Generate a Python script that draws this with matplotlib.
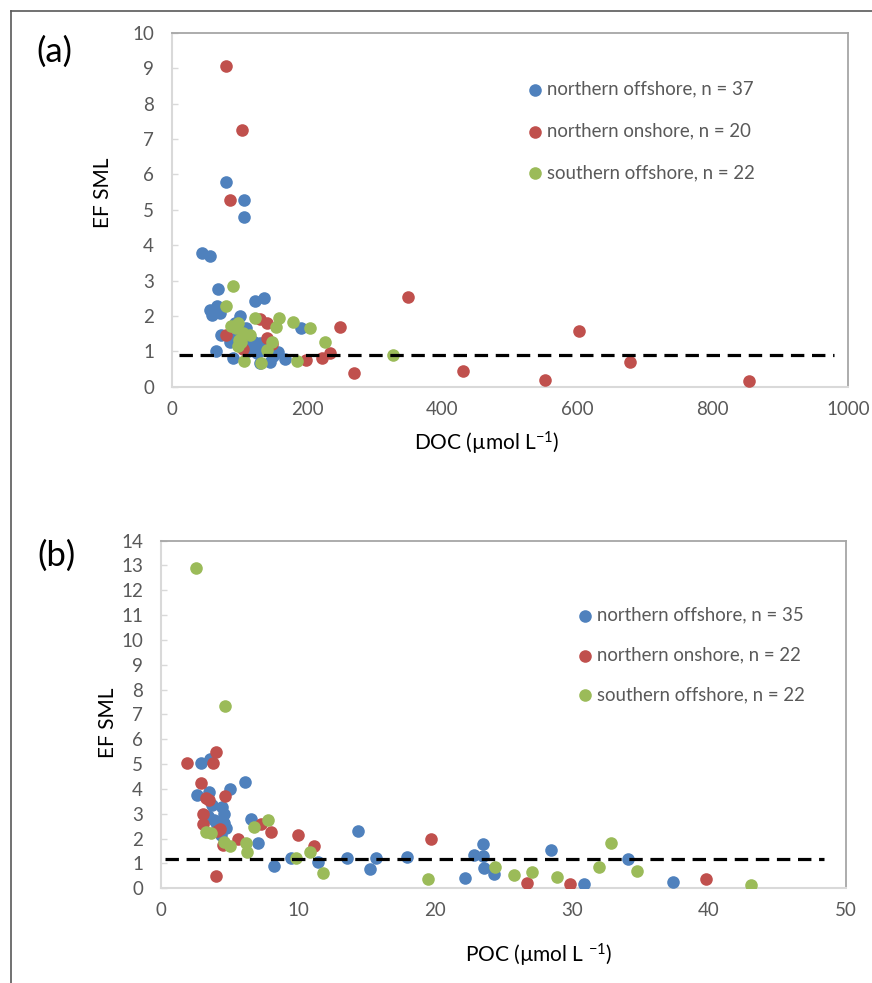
import matplotlib
matplotlib.use("Agg")
import matplotlib.pyplot as plt
from matplotlib.lines import Line2D

plt.rcParams['font.family'] = ['Lato', 'DejaVu Sans']
plt.rcParams['mathtext.fontset'] = 'custom'
plt.rcParams['mathtext.rm'] = 'Lato'
plt.rcParams['mathtext.default'] = 'regular'

# panel (a): DOC vs EF SML
doc_blue_x = [79.6, 106.7, 106.7, 43.8, 56, 67.4, 122.4, 136, 56, 66, 58.5, 71, 100, 93,
              110, 73, 85.5, 122, 130, 115, 191, 65, 90.5, 130, 144.5, 166.7, 157, 134.7,
              144.5, 100, 104, 96, 118, 126, 150, 88, 112]
doc_blue_y = [5.80, 5.28, 4.79, 3.79, 3.70, 2.75, 2.42, 2.52, 2.17, 2.28, 2.03, 2.08, 2.00, 1.79,
              1.65, 1.46, 1.27, 1.27, 1.23, 1.37, 1.65, 1.02, 0.82, 0.66, 0.71, 0.77, 0.99, 1.04,
              1.08, 1.42, 1.55, 1.62, 1.15, 0.95, 0.86, 1.35, 1.02]
doc_red_x = [79.6, 104, 86, 349, 248, 140.6, 140.6, 80.6, 105, 198.6, 221.7, 233, 269, 130,
             431, 552, 602.5, 677.6, 853, 148]
doc_red_y = [9.08, 7.25, 5.27, 2.53, 1.70, 1.81, 1.37, 1.46, 1.08, 0.75, 0.80, 0.96, 0.38, 1.90,
             0.44, 0.19, 1.58, 0.69, 0.17, 1.20]
doc_green_x = [90.5, 80.6, 122.4, 159, 153.4, 179, 203.5, 226.7, 97.8, 94.4, 105, 97.8, 99,
               148.5, 106, 132, 185, 326.5, 88, 102, 140, 115]
doc_green_y = [2.86, 2.28, 1.95, 1.93, 1.70, 1.84, 1.65, 1.27, 1.81, 1.67, 1.51, 1.16, 1.32,
               1.27, 0.74, 0.66, 0.73, 0.90, 1.72, 1.25, 1.05, 1.45]
doc_limit = 0.89
doc_limit_span = [10, 980]
labels_a = ['northern offshore, n = 37', 'northern onshore, n = 20', 'southern offshore, n = 22']

# panel (b): POC vs EF SML
poc_blue_x = [2.95, 3.6, 5.02, 6.15, 2.66, 3.5, 3.75, 4.49, 4.6, 4.6, 4.73, 4.37, 3.88, 3.4,
              6.6, 7.1, 8.27, 9.5, 11.5, 13.6, 14.4, 15.3, 15.7, 18.0, 22.2, 22.85, 23.55,
              23.5, 23.6, 24.3, 28.5, 30.9, 34.1, 37.4, 4.1]
poc_blue_y = [5.05, 5.20, 3.98, 4.29, 3.75, 3.89, 3.35, 3.28, 2.99, 2.61, 2.41, 2.14, 2.75, 2.92,
              2.77, 1.84, 0.90, 1.21, 1.07, 1.21, 2.30, 0.76, 1.23, 1.25, 0.43, 1.34, 1.77,
              1.30, 0.80, 0.57, 1.54, 0.17, 1.17, 0.27, 2.55]
poc_red_x = [1.93, 4.0, 3.83, 2.9, 3.32, 4.68, 3.07, 3.1, 4.12, 4.54, 5.59, 7.3, 8.07, 10.0,
             11.15, 4.0, 19.7, 26.7, 29.9, 39.8, 3.5, 4.3]
poc_red_y = [5.05, 5.47, 5.05, 4.22, 3.62, 3.71, 3.01, 2.57, 2.30, 1.74, 1.97, 2.59, 2.28, 2.14,
             1.70, 0.50, 1.98, 0.20, 0.17, 0.38, 3.55, 2.40]
poc_green_x = [2.59, 4.71, 3.27, 3.63, 4.61, 5.02, 6.2, 6.27, 6.8, 7.78, 9.85, 10.9, 11.8, 19.5,
               24.4, 25.8, 27.1, 28.9, 32.0, 32.9, 34.8, 43.1]
poc_green_y = [12.9, 7.34, 2.28, 2.21, 1.88, 1.70, 1.81, 1.45, 2.45, 2.75, 1.21, 1.45, 0.63, 0.36,
               0.87, 0.52, 0.67, 0.44, 0.87, 1.81, 0.70, 0.13]
poc_limit = 1.18
poc_limit_span = [0.3, 48.4]
labels_b = ['northern offshore, n = 35', 'northern onshore, n = 22', 'southern offshore, n = 22']

blue = '#4f81bd'
red = '#c0504d'
green = '#9bbb59'
grey_txt = '#595959'

W, H = 872, 983
fig = plt.figure(figsize=(W / 100, H / 100), dpi=100)


def style(ax, xmax, ymax, xstep):
    ax.set_xlim(0, xmax)
    ax.set_ylim(0, ymax)
    ax.set_xticks(range(0, xmax + 1, xstep))
    ax.set_yticks(range(0, ymax + 1))
    for s in ['top', 'right']:
        ax.spines[s].set_color('#a6a6a6')
        ax.spines[s].set_linewidth(1.3)
    for s in ['left', 'bottom']:
        ax.spines[s].set_color('#d9d9d9')
        ax.spines[s].set_linewidth(1.5)
    ax.tick_params(axis='y', direction='in', length=4, width=1, color='#d9d9d9',
                   labelsize=13.5, labelcolor=grey_txt, pad=13)
    ax.tick_params(axis='x', length=0, labelsize=13.5, labelcolor=grey_txt, pad=10)


def panel(ax, bx, by, rx, ry, gx, gy, lim, span):
    ms = 82
    h1 = ax.scatter(bx, by, s=ms, color=blue, lw=0, zorder=3)
    h2 = ax.scatter(rx, ry, s=ms, color=red, lw=0, zorder=3)
    h3 = ax.scatter(gx, gy, s=ms, color=green, lw=0, zorder=3)
    ax.plot(span, [lim, lim], color='black', lw=2.3, ls=(0, (4.2, 2.4)), zorder=4)
    return [h1, h2, h3]


def legend(ax, hs, labels, x, y, spacing):
    ax.legend(hs, labels, loc='center left', bbox_to_anchor=(x / W, 1 - y / H),
              bbox_transform=fig.transFigure, frameon=False, fontsize=13.4,
              labelcolor=grey_txt, handlelength=0.8, handletextpad=0.2,
              labelspacing=spacing, borderpad=0, borderaxespad=0)


# (a)
ax_a = fig.add_axes([172 / W, 1 - 386.7 / H, 676 / W, 353.7 / H])
hs = panel(ax_a, doc_blue_x, doc_blue_y, doc_red_x, doc_red_y, doc_green_x, doc_green_y,
           doc_limit, doc_limit_span)
style(ax_a, 1000, 10, 200)
ax_a.set_xlabel('DOC (µmol L$^{-1}$)', fontsize=15, va='center')
ax_a.xaxis.set_label_coords(0.466, -0.159)
ax_a.set_ylabel('EF SML', fontsize=15, va='center')
ax_a.yaxis.set_label_coords(-0.1028, 0.548)
legend(ax_a, hs, labels_a, 528, 131, 1.33)

# (b)
ax_b = fig.add_axes([161 / W, 1 - 888.3 / H, 684.5 / W, 347.8 / H])
hs = panel(ax_b, poc_blue_x, poc_blue_y, poc_red_x, poc_red_y, poc_green_x, poc_green_y,
           poc_limit, poc_limit_span)
style(ax_b, 50, 14, 10)
ax_b.set_xlabel('POC (µmol L $^{-1}$)', fontsize=15, va='center')
ax_b.xaxis.set_label_coords(0.552, -0.192)
ax_b.set_ylabel('EF SML', fontsize=15, va='center')
ax_b.yaxis.set_label_coords(-0.078, 0.475)
legend(ax_b, hs, labels_b, 578, 655, 1.22)

fig.text(54 / W, 1 - 52 / H, '(a)', fontsize=25, ha='center', va='center')
fig.text(56 / W, 1 - 556 / H, '(b)', fontsize=25, ha='center', va='center')

# outer frame of the screenshot
fig.add_artist(Line2D([11 / W, 11 / W], [0, 1 - 10.5 / H], transform=fig.transFigure,
                      color='#595959', lw=1.2))
fig.add_artist(Line2D([11 / W, 1], [1 - 10.5 / H, 1 - 10.5 / H], transform=fig.transFigure,
                      color='#595959', lw=1.2))

fig.savefig('out.png', dpi=100)
